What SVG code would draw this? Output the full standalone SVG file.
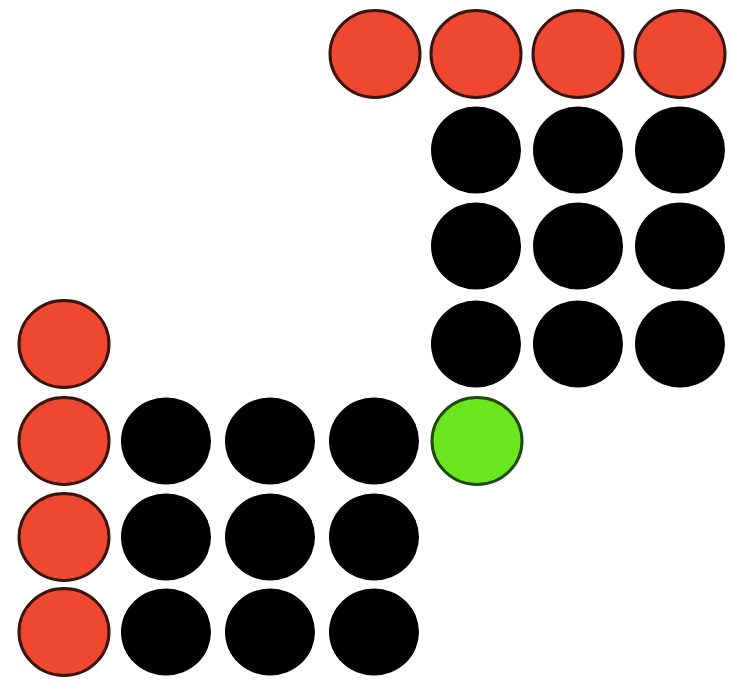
<svg xmlns="http://www.w3.org/2000/svg" width="731" height="686" viewBox="0 0 731 686">
<style>
.r{fill:#EE4830;stroke:#3A1410;stroke-width:3}
.k{fill:#000}
.g{fill:#6BE61E;stroke:#1F4A0A;stroke-width:3}
</style>
<defs>
<ellipse id="e" cx="0" cy="0" rx="45" ry="43.5"/>
</defs>
<rect width="731" height="686" fill="#fff"/>
<g id="top-red">
<use href="#e" class="r" x="375" y="54"/>
<use href="#e" class="r" x="476" y="54"/>
<use href="#e" class="r" x="578" y="54"/>
<use href="#e" class="r" x="680" y="54"/>
</g>
<g id="top-black">
<use href="#e" class="k" x="476" y="150"/>
<use href="#e" class="k" x="578" y="150"/>
<use href="#e" class="k" x="680" y="150"/>
<use href="#e" class="k" x="476" y="246"/>
<use href="#e" class="k" x="578" y="246"/>
<use href="#e" class="k" x="680" y="246"/>
<use href="#e" class="k" x="476" y="344"/>
<use href="#e" class="k" x="578" y="344"/>
<use href="#e" class="k" x="680" y="344"/>
</g>
<g id="left-red">
<use href="#e" class="r" x="64" y="344"/>
<use href="#e" class="r" x="64" y="441"/>
<use href="#e" class="r" x="64" y="537"/>
<use href="#e" class="r" x="64" y="632"/>
</g>
<g id="bottom-black">
<use href="#e" class="k" x="166" y="441"/>
<use href="#e" class="k" x="270" y="441"/>
<use href="#e" class="k" x="374" y="441"/>
<use href="#e" class="k" x="166" y="537"/>
<use href="#e" class="k" x="270" y="537"/>
<use href="#e" class="k" x="374" y="537"/>
<use href="#e" class="k" x="166" y="632"/>
<use href="#e" class="k" x="270" y="632"/>
<use href="#e" class="k" x="374" y="632"/>
</g>
<g id="green">
<use href="#e" class="g" x="477" y="441"/>
</g>
</svg>
